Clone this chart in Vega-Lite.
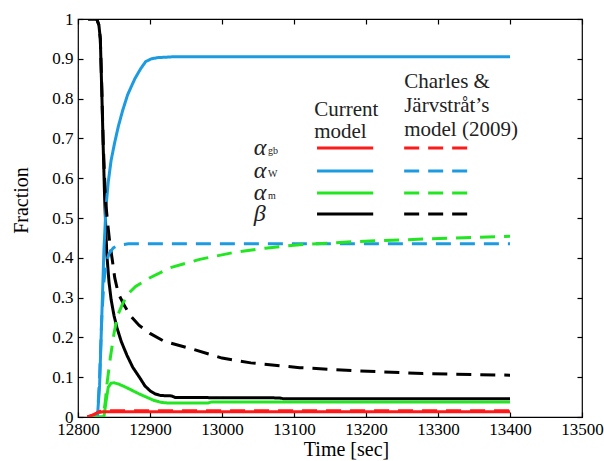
{
  "$schema": "https://vega.github.io/schema/vega-lite/v6.json",
  "width": 504,
  "height": 398,
  "padding": {"left": 11, "top": 10, "right": 5, "bottom": 2},
  "background": "white",
  "config": {
    "font": "Liberation Serif",
    "view": {"stroke": "black", "strokeWidth": 1.2},
    "axis": {
      "grid": false,
      "domain": false,
      "offset": -5,
      "tickColor": "black",
      "tickWidth": 1.2,
      "tickSize": 5,
      "labelColor": "black",
      "labelFont": "Liberation Serif",
      "labelFontSize": 17,
      "titleFont": "Liberation Serif",
      "titleFontSize": 20,
      "titleFontWeight": "normal",
      "titleColor": "black"
    }
  },
  "datasets": {
    "curves": [
      {"phase": "beta", "model": "current", "t": 12814, "f": 1.0},
      {"phase": "beta", "model": "current", "t": 12826, "f": 1.0},
      {"phase": "beta", "model": "current", "t": 12829, "f": 0.985},
      {"phase": "beta", "model": "current", "t": 12831, "f": 0.95},
      {"phase": "beta", "model": "current", "t": 12833, "f": 0.82},
      {"phase": "beta", "model": "current", "t": 12835, "f": 0.68},
      {"phase": "beta", "model": "current", "t": 12837, "f": 0.55},
      {"phase": "beta", "model": "current", "t": 12840, "f": 0.41},
      {"phase": "beta", "model": "current", "t": 12843, "f": 0.34},
      {"phase": "beta", "model": "current", "t": 12846, "f": 0.295},
      {"phase": "beta", "model": "current", "t": 12850, "f": 0.255},
      {"phase": "beta", "model": "current", "t": 12854, "f": 0.225},
      {"phase": "beta", "model": "current", "t": 12860, "f": 0.19},
      {"phase": "beta", "model": "current", "t": 12868, "f": 0.155},
      {"phase": "beta", "model": "current", "t": 12876, "f": 0.125},
      {"phase": "beta", "model": "current", "t": 12886, "f": 0.098},
      {"phase": "beta", "model": "current", "t": 12893, "f": 0.078},
      {"phase": "beta", "model": "current", "t": 12900, "f": 0.066},
      {"phase": "beta", "model": "current", "t": 12907, "f": 0.058},
      {"phase": "beta", "model": "current", "t": 12915, "f": 0.054},
      {"phase": "beta", "model": "current", "t": 12930, "f": 0.053},
      {"phase": "beta", "model": "current", "t": 12935, "f": 0.049},
      {"phase": "beta", "model": "current", "t": 13080, "f": 0.048},
      {"phase": "beta", "model": "current", "t": 13085, "f": 0.046},
      {"phase": "beta", "model": "current", "t": 13400, "f": 0.046},

      {"phase": "w", "model": "current", "t": 12814, "f": 0.0},
      {"phase": "w", "model": "current", "t": 12827, "f": 0.0},
      {"phase": "w", "model": "current", "t": 12830, "f": 0.08},
      {"phase": "w", "model": "current", "t": 12833, "f": 0.25},
      {"phase": "w", "model": "current", "t": 12836, "f": 0.42},
      {"phase": "w", "model": "current", "t": 12839, "f": 0.53},
      {"phase": "w", "model": "current", "t": 12842, "f": 0.59},
      {"phase": "w", "model": "current", "t": 12846, "f": 0.645},
      {"phase": "w", "model": "current", "t": 12851, "f": 0.69},
      {"phase": "w", "model": "current", "t": 12856, "f": 0.73},
      {"phase": "w", "model": "current", "t": 12862, "f": 0.77},
      {"phase": "w", "model": "current", "t": 12869, "f": 0.81},
      {"phase": "w", "model": "current", "t": 12879, "f": 0.85},
      {"phase": "w", "model": "current", "t": 12887, "f": 0.875},
      {"phase": "w", "model": "current", "t": 12894, "f": 0.893},
      {"phase": "w", "model": "current", "t": 12902, "f": 0.9},
      {"phase": "w", "model": "current", "t": 12911, "f": 0.903},
      {"phase": "w", "model": "current", "t": 12932, "f": 0.905},
      {"phase": "w", "model": "current", "t": 13400, "f": 0.905},

      {"phase": "m", "model": "current", "t": 12814, "f": 0.0},
      {"phase": "m", "model": "current", "t": 12836, "f": 0.0},
      {"phase": "m", "model": "current", "t": 12839, "f": 0.04},
      {"phase": "m", "model": "current", "t": 12842, "f": 0.075},
      {"phase": "m", "model": "current", "t": 12846, "f": 0.085},
      {"phase": "m", "model": "current", "t": 12850, "f": 0.086},
      {"phase": "m", "model": "current", "t": 12856, "f": 0.083},
      {"phase": "m", "model": "current", "t": 12865, "f": 0.076},
      {"phase": "m", "model": "current", "t": 12875, "f": 0.067},
      {"phase": "m", "model": "current", "t": 12885, "f": 0.058},
      {"phase": "m", "model": "current", "t": 12895, "f": 0.05},
      {"phase": "m", "model": "current", "t": 12905, "f": 0.042},
      {"phase": "m", "model": "current", "t": 12915, "f": 0.037},
      {"phase": "m", "model": "current", "t": 12925, "f": 0.035},
      {"phase": "m", "model": "current", "t": 12980, "f": 0.035},
      {"phase": "m", "model": "current", "t": 12986, "f": 0.038},
      {"phase": "m", "model": "current", "t": 13400, "f": 0.038},

      {"phase": "gb", "model": "current", "t": 12813, "f": 0.0},
      {"phase": "gb", "model": "current", "t": 12820, "f": 0.004},
      {"phase": "gb", "model": "current", "t": 12828, "f": 0.011},
      {"phase": "gb", "model": "current", "t": 12834, "f": 0.013},
      {"phase": "gb", "model": "current", "t": 13400, "f": 0.013},

      {"phase": "beta", "model": "charles", "t": 12814, "f": 1.0},
      {"phase": "beta", "model": "charles", "t": 12826, "f": 1.0},
      {"phase": "beta", "model": "charles", "t": 12829, "f": 0.985},
      {"phase": "beta", "model": "charles", "t": 12831, "f": 0.95},
      {"phase": "beta", "model": "charles", "t": 12833, "f": 0.83},
      {"phase": "beta", "model": "charles", "t": 12835, "f": 0.69},
      {"phase": "beta", "model": "charles", "t": 12838, "f": 0.55},
      {"phase": "beta", "model": "charles", "t": 12841, "f": 0.49},
      {"phase": "beta", "model": "charles", "t": 12844, "f": 0.44},
      {"phase": "beta", "model": "charles", "t": 12848, "f": 0.39},
      {"phase": "beta", "model": "charles", "t": 12851, "f": 0.35},
      {"phase": "beta", "model": "charles", "t": 12856, "f": 0.31},
      {"phase": "beta", "model": "charles", "t": 12865, "f": 0.278},
      {"phase": "beta", "model": "charles", "t": 12874, "f": 0.252},
      {"phase": "beta", "model": "charles", "t": 12885, "f": 0.23},
      {"phase": "beta", "model": "charles", "t": 12900, "f": 0.21},
      {"phase": "beta", "model": "charles", "t": 12920, "f": 0.19},
      {"phase": "beta", "model": "charles", "t": 12960, "f": 0.17},
      {"phase": "beta", "model": "charles", "t": 13000, "f": 0.148},
      {"phase": "beta", "model": "charles", "t": 13040, "f": 0.136},
      {"phase": "beta", "model": "charles", "t": 13108, "f": 0.124},
      {"phase": "beta", "model": "charles", "t": 13188, "f": 0.116},
      {"phase": "beta", "model": "charles", "t": 13279, "f": 0.109},
      {"phase": "beta", "model": "charles", "t": 13400, "f": 0.105},

      {"phase": "w", "model": "charles", "t": 12814, "f": 0.0},
      {"phase": "w", "model": "charles", "t": 12827, "f": 0.0},
      {"phase": "w", "model": "charles", "t": 12830, "f": 0.1},
      {"phase": "w", "model": "charles", "t": 12833, "f": 0.25},
      {"phase": "w", "model": "charles", "t": 12836, "f": 0.34},
      {"phase": "w", "model": "charles", "t": 12839, "f": 0.385},
      {"phase": "w", "model": "charles", "t": 12843, "f": 0.41},
      {"phase": "w", "model": "charles", "t": 12849, "f": 0.425},
      {"phase": "w", "model": "charles", "t": 12856, "f": 0.432},
      {"phase": "w", "model": "charles", "t": 12870, "f": 0.435},
      {"phase": "w", "model": "charles", "t": 13400, "f": 0.435},

      {"phase": "m", "model": "charles", "t": 12814, "f": 0.0},
      {"phase": "m", "model": "charles", "t": 12835, "f": 0.0},
      {"phase": "m", "model": "charles", "t": 12838, "f": 0.04},
      {"phase": "m", "model": "charles", "t": 12840, "f": 0.08},
      {"phase": "m", "model": "charles", "t": 12845, "f": 0.15},
      {"phase": "m", "model": "charles", "t": 12850, "f": 0.21},
      {"phase": "m", "model": "charles", "t": 12855, "f": 0.255},
      {"phase": "m", "model": "charles", "t": 12862, "f": 0.285},
      {"phase": "m", "model": "charles", "t": 12870, "f": 0.31},
      {"phase": "m", "model": "charles", "t": 12880, "f": 0.328},
      {"phase": "m", "model": "charles", "t": 12900, "f": 0.35},
      {"phase": "m", "model": "charles", "t": 12928, "f": 0.375},
      {"phase": "m", "model": "charles", "t": 12969, "f": 0.396},
      {"phase": "m", "model": "charles", "t": 13015, "f": 0.413},
      {"phase": "m", "model": "charles", "t": 13060, "f": 0.424},
      {"phase": "m", "model": "charles", "t": 13108, "f": 0.433},
      {"phase": "m", "model": "charles", "t": 13188, "f": 0.441},
      {"phase": "m", "model": "charles", "t": 13279, "f": 0.447},
      {"phase": "m", "model": "charles", "t": 13400, "f": 0.454},

      {"phase": "gb", "model": "charles", "t": 12813, "f": 0.0},
      {"phase": "gb", "model": "charles", "t": 12822, "f": 0.006},
      {"phase": "gb", "model": "charles", "t": 12830, "f": 0.014},
      {"phase": "gb", "model": "charles", "t": 12840, "f": 0.016},
      {"phase": "gb", "model": "charles", "t": 13400, "f": 0.016}
    ],
    "samples": [
      {"phase": "gb", "model": "current", "t1": 13132, "t2": 13210, "f": 0.676},
      {"phase": "w", "model": "current", "t1": 13132, "t2": 13210, "f": 0.618},
      {"phase": "m", "model": "current", "t1": 13132, "t2": 13210, "f": 0.563},
      {"phase": "beta", "model": "current", "t1": 13132, "t2": 13210, "f": 0.51},
      {"phase": "gb", "model": "charles", "t1": 13253, "t2": 13342, "f": 0.676},
      {"phase": "w", "model": "charles", "t1": 13253, "t2": 13342, "f": 0.618},
      {"phase": "m", "model": "charles", "t1": 13253, "t2": 13342, "f": 0.563},
      {"phase": "beta", "model": "charles", "t1": 13253, "t2": 13342, "f": 0.51}
    ],
    "headings": [
      {"t": 13128, "f": 0.756, "text": "Current"},
      {"t": 13128, "f": 0.701, "text": "model"},
      {"t": 13253, "f": 0.827, "text": "Charles &"},
      {"t": 13253, "f": 0.766, "text": "Järvstråt’s"},
      {"t": 13253, "f": 0.706, "text": "model (2009)"}
    ],
    "symbols": [
      {"t": 13044, "f": 0.676, "text": "α"},
      {"t": 13044, "f": 0.618, "text": "α"},
      {"t": 13044, "f": 0.563, "text": "α"},
      {"t": 13044, "f": 0.51, "text": "β"}
    ],
    "subs": [
      {"t": 13064, "f": 0.66, "text": "gb"},
      {"t": 13064, "f": 0.602, "text": "W"},
      {"t": 13064, "f": 0.547, "text": "m"}
    ]
  },
  "layer": [
    {
      "data": {"name": "curves"},
      "mark": {"type": "line", "strokeWidth": 3, "clip": true},
      "encoding": {
        "x": {"field": "t", "type": "quantitative", "scale": {"domain": [12800, 13500], "nice": false},
              "axis": {"orient": "bottom", "values": [12800, 12900, 13000, 13100, 13200, 13300, 13400, 13500], "format": "d", "title": "Time [sec]", "titleX": 268, "labelPadding": 4, "titlePadding": 2, "labelFlush": false, "labelOverlap": false}},
        "y": {"field": "f", "type": "quantitative", "scale": {"domain": [0, 1], "nice": false},
              "axis": {"orient": "left", "values": [0, 0.1, 0.2, 0.3, 0.4, 0.5, 0.6, 0.7, 0.8, 0.9, 1], "format": "~g", "title": "Fraction", "titleY": 181, "labelPadding": 5, "titlePadding": 20, "labelFlush": false, "labelOverlap": false}},
        "color": {"field": "phase", "type": "nominal", "scale": {"domain": ["gb", "w", "m", "beta"], "range": ["#ff1a1a", "#1c9be0", "#22e622", "#000000"]}, "legend": null},
        "strokeDash": {"field": "model", "type": "nominal", "scale": {"domain": ["current", "charles"], "range": [[1, 0], [15, 9]]}, "legend": null},
        "order": {"field": "t", "type": "quantitative"}
      }
    },
    {
      "data": {"name": "samples"},
      "mark": {"type": "rule", "strokeWidth": 3},
      "encoding": {
        "x": {"field": "t1", "type": "quantitative", "axis": {"orient": "top", "values": [12800, 12900, 13000, 13100, 13200, 13300, 13400, 13500], "labels": false, "title": null}},
        "x2": {"field": "t2"},
        "y": {"field": "f", "type": "quantitative", "axis": {"orient": "right", "values": [0, 0.1, 0.2, 0.3, 0.4, 0.5, 0.6, 0.7, 0.8, 0.9, 1], "labels": false, "title": null}},
        "color": {"field": "phase", "type": "nominal", "legend": null},
        "strokeDash": {"field": "model", "type": "nominal", "legend": null}
      }
    },
    {
      "data": {"name": "headings"},
      "mark": {"type": "text", "align": "left", "baseline": "alphabetic", "fontSize": 21, "font": "Liberation Serif", "color": "#222222"},
      "encoding": {
        "x": {"field": "t", "type": "quantitative", "axis": null},
        "y": {"field": "f", "type": "quantitative", "axis": null},
        "text": {"field": "text"}
      }
    },
    {
      "data": {"name": "symbols"},
      "mark": {"type": "text", "align": "left", "baseline": "middle", "fontSize": 24, "fontStyle": "italic", "font": "Liberation Serif", "color": "#222222"},
      "encoding": {
        "x": {"field": "t", "type": "quantitative", "axis": null},
        "y": {"field": "f", "type": "quantitative", "axis": null},
        "text": {"field": "text"}
      }
    },
    {
      "data": {"name": "subs"},
      "mark": {"type": "text", "align": "left", "baseline": "alphabetic", "fontSize": 10, "font": "Liberation Serif", "color": "#222222"},
      "encoding": {
        "x": {"field": "t", "type": "quantitative", "axis": null},
        "y": {"field": "f", "type": "quantitative", "axis": null},
        "text": {"field": "text"}
      }
    }
  ],
  "resolve": {"axis": {"x": "independent", "y": "independent"}}
}
